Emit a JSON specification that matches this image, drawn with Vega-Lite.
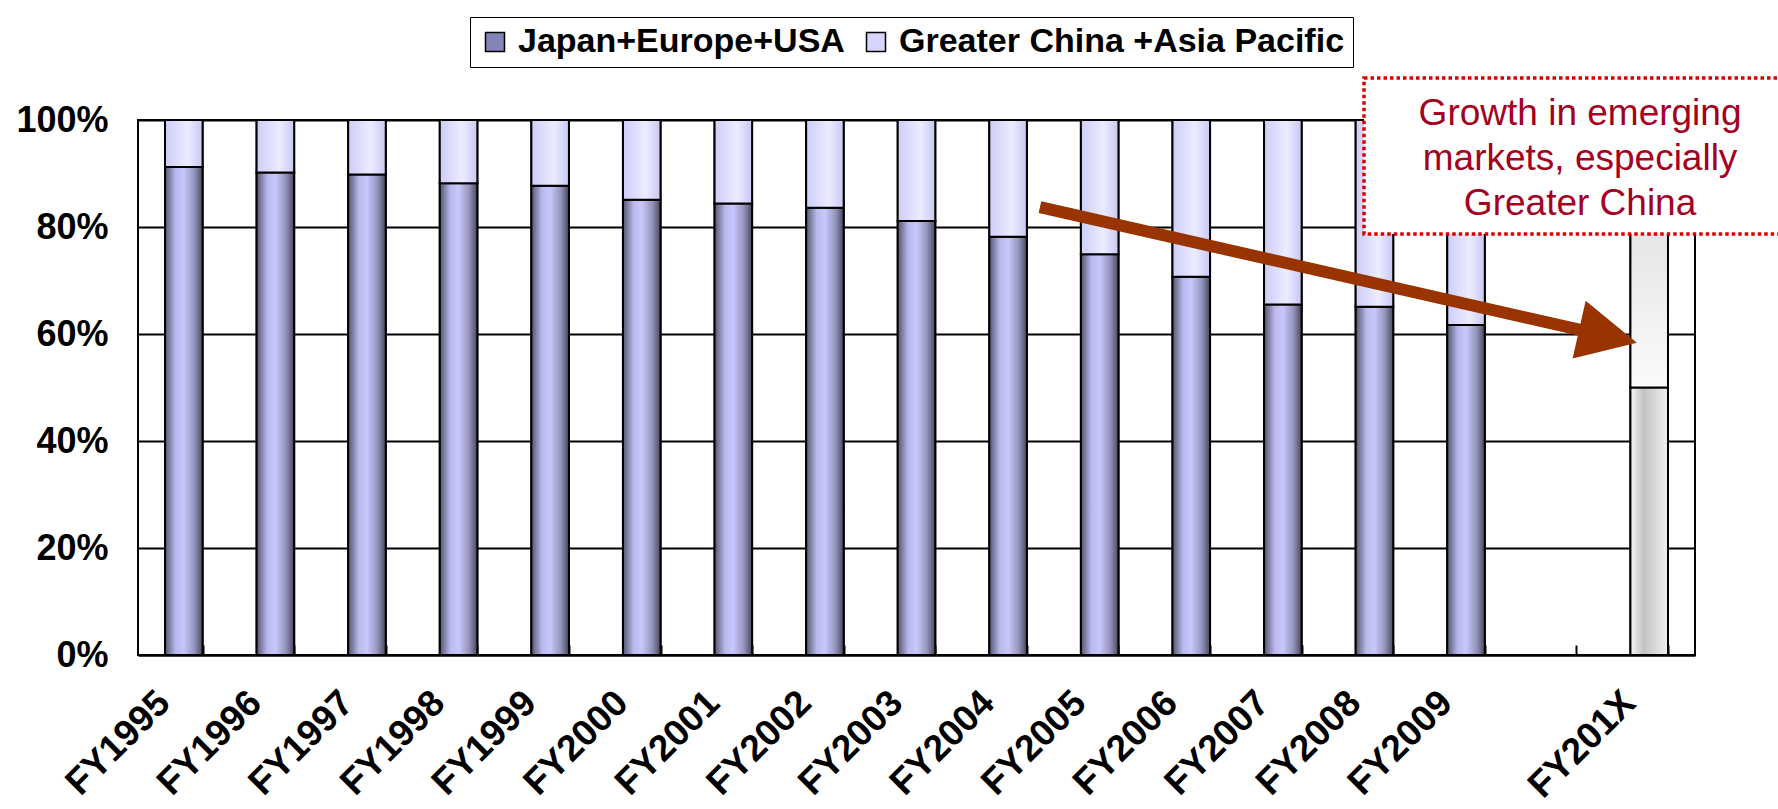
{
  "$schema": "https://vega.github.io/schema/vega-lite/v6.json",
  "width": 1557,
  "height": 535,
  "autosize": {"type": "none"},
  "padding": {"left": 138, "top": 120, "right": 83, "bottom": 154},
  "background": "white",
  "data": {
    "values": [
      {"year": "FY1995", "share": 0.912},
      {"year": "FY1996", "share": 0.902},
      {"year": "FY1997", "share": 0.898},
      {"year": "FY1998", "share": 0.882},
      {"year": "FY1999", "share": 0.877},
      {"year": "FY2000", "share": 0.851},
      {"year": "FY2001", "share": 0.844},
      {"year": "FY2002", "share": 0.836},
      {"year": "FY2003", "share": 0.811},
      {"year": "FY2004", "share": 0.782},
      {"year": "FY2005", "share": 0.749},
      {"year": "FY2006", "share": 0.707},
      {"year": "FY2007", "share": 0.655},
      {"year": "FY2008", "share": 0.651},
      {"year": "FY2009", "share": 0.617},
      {"year": "FY201X", "share": 0.5}
    ]
  },
  "layer": [
    {
      "layer": [
        {
          "mark": {"type": "bar", "stroke": "black", "strokeWidth": 2},
          "encoding": {
            "x": {
              "field": "year", "type": "nominal", "title": null,
              "scale": {"domain": ["FY1995","FY1996","FY1997","FY1998","FY1999","FY2000","FY2001","FY2002","FY2003","FY2004","FY2005","FY2006","FY2007","FY2008","FY2009"," ","FY201X"], "paddingInner": 0.59, "paddingOuter": 0.295},
              "axis": {
                "labelAngle": -45, "labelAlign": "right", "labelBaseline": "middle",
                "labelFont": "Liberation Sans", "labelFontSize": 37, "labelFontWeight": "bold", "labelColor": "black",
                "labelPadding": 52, "labelOffset": -20, "labelLimit": 0,
                "tickBand": "extent", "tickSize": -10, "tickColor": "black", "tickWidth": 2,
                "domain": true, "domainColor": "black", "domainWidth": 2,
                "grid": false
              }
            },
            "y": {
              "field": "share", "type": "quantitative", "title": null,
              "scale": {"domain": [0, 1], "nice": false},
              "axis": {
                "format": ".0%", "values": [0, 0.2, 0.4, 0.6, 0.8, 1],
                "labelFont": "Liberation Sans", "labelFontSize": 36, "labelFontWeight": "bold", "labelColor": "black",
                "labelPadding": 30, "ticks": false, "domain": false,
                "grid": true, "gridColor": "black", "gridWidth": 2
              }
            },
            "color": {
              "datum": "Japan+Europe+USA", "type": "nominal",
              "scale": {"domain": ["Japan+Europe+USA", "Greater China +Asia Pacific"], "range": ["#8484b8", "#d6d6fc"]},
              "legend": {
                "orient": "none", "legendX": 332, "legendY": -103, "direction": "horizontal", "title": null,
                "strokeColor": "black", "fillColor": "white", "padding": 8,
                "symbolType": "square", "symbolSize": 361, "symbolStrokeColor": "black", "symbolStrokeWidth": 1.5,
                "labelFont": "Liberation Sans", "labelFontSize": 34, "labelFontWeight": "bold", "labelColor": "black",
                "labelOffset": 6, "columnPadding": 14, "labelLimit": 0
              }
            }
          }
        },
        {
          "mark": {"type": "bar", "stroke": "black", "strokeWidth": 2},
          "encoding": {
            "x": {"field": "year", "type": "nominal", "title": null},
            "y": {"field": "share", "type": "quantitative", "title": null, "scale": {"domain": [0, 1], "nice": false}},
            "y2": {"datum": 1},
            "color": {
              "datum": "Greater China +Asia Pacific", "type": "nominal",
              "scale": {"domain": ["Japan+Europe+USA", "Greater China +Asia Pacific"], "range": ["#8484b8", "#d6d6fc"]}
            }
          }
        },
        {
          "transform": [{"filter": "datum.year !== 'FY201X'"}],
          "mark": {
            "type": "bar", "stroke": "black", "strokeWidth": 2,
            "fill": {"gradient": "linear", "x1": 0, "x2": 1, "y1": 0, "y2": 0,
              "stops": [
                {"offset": 0, "color": "#54546c"},
                {"offset": 0.28, "color": "#b8b8ec"},
                {"offset": 0.5, "color": "#c8c8fc"},
                {"offset": 0.78, "color": "#9494bc"},
                {"offset": 1, "color": "#48485c"}
              ]}
          },
          "encoding": {
            "x": {"field": "year", "type": "nominal", "title": null},
            "y": {"field": "share", "type": "quantitative", "title": null, "scale": {"domain": [0, 1], "nice": false}}
          }
        },
        {
          "transform": [{"filter": "datum.year !== 'FY201X'"}],
          "mark": {
            "type": "bar", "stroke": "black", "strokeWidth": 2,
            "fill": {"gradient": "linear", "x1": 0, "x2": 1, "y1": 0, "y2": 0,
              "stops": [
                {"offset": 0, "color": "#cdcdf8"},
                {"offset": 0.6, "color": "#ececff"},
                {"offset": 1, "color": "#c8c8f4"}
              ]}
          },
          "encoding": {
            "x": {"field": "year", "type": "nominal", "title": null},
            "y": {"field": "share", "type": "quantitative", "title": null, "scale": {"domain": [0, 1], "nice": false}},
            "y2": {"datum": 1}
          }
        },
        {
          "transform": [{"filter": "datum.year === 'FY201X'"}],
          "mark": {
            "type": "bar", "stroke": "black", "strokeWidth": 2,
            "fill": {"gradient": "linear", "x1": 0, "x2": 1, "y1": 0, "y2": 0,
              "stops": [
                {"offset": 0, "color": "#f6f6f6"},
                {"offset": 0.35, "color": "#c2c2c2"},
                {"offset": 1, "color": "#f2f2f2"}
              ]}
          },
          "encoding": {
            "x": {"field": "year", "type": "nominal", "title": null},
            "y": {"field": "share", "type": "quantitative", "title": null, "scale": {"domain": [0, 1], "nice": false}}
          }
        },
        {
          "transform": [{"filter": "datum.year === 'FY201X'"}],
          "mark": {
            "type": "bar", "stroke": "black", "strokeWidth": 2,
            "fill": {"gradient": "linear", "x1": 0, "x2": 0, "y1": 0, "y2": 1,
              "stops": [
                {"offset": 0, "color": "#d6d6d6"},
                {"offset": 1, "color": "#fbfbfb"}
              ]}
          },
          "encoding": {
            "x": {"field": "year", "type": "nominal", "title": null},
            "y": {"field": "share", "type": "quantitative", "title": null, "scale": {"domain": [0, 1], "nice": false}},
            "y2": {"datum": 1}
          }
        }
      ]
    },
    {
      "transform": [{"filter": "datum.year === 'FY201X'"}],
      "layer": [
        {
          "mark": {"type": "rect", "fill": "white", "stroke": "#dd0000", "strokeWidth": 3.5, "strokeDash": [3.5, 3]},
          "encoding": {
            "x": {"datum": 13.386, "type": "quantitative", "scale": {"domain": [0, 17], "nice": false, "zero": false}, "axis": null},
            "x2": {"datum": 18.5},
            "y": {"datum": 1.0785, "type": "quantitative", "scale": {"domain": [0, 1], "nice": false}, "axis": null},
            "y2": {"datum": 0.787}
          }
        },
        {
          "mark": {"type": "text", "text": ["Growth in emerging", "markets, especially", "Greater China"], "font": "Liberation Sans", "fontSize": 37, "lineHeight": 45, "align": "center", "baseline": "alphabetic", "color": "#a50021"},
          "encoding": {
            "x": {"datum": 15.745, "type": "quantitative", "scale": {"domain": [0, 17], "nice": false, "zero": false}, "axis": null},
            "y": {"datum": 0.9907, "type": "quantitative", "scale": {"domain": [0, 1], "nice": false}, "axis": null}
          }
        },
        {
          "mark": {"type": "rule", "color": "#993300", "strokeWidth": 12, "strokeCap": "butt"},
          "encoding": {
            "x": {"datum": 9.848, "type": "quantitative", "scale": {"domain": [0, 17], "nice": false, "zero": false}, "axis": null},
            "x2": {"datum": 16.05},
            "y": {"datum": 0.837, "type": "quantitative", "scale": {"domain": [0, 1], "nice": false}, "axis": null},
            "y2": {"datum": 0.596}
          }
        },
        {
          "mark": {"type": "point", "shape": "M1,0L-1,-1L-1,1Z", "size": 3500, "angle": 12.74, "filled": true, "color": "#993300", "opacity": 1, "strokeWidth": 0},
          "encoding": {
            "x": {"datum": 16.05, "type": "quantitative", "scale": {"domain": [0, 17], "nice": false, "zero": false}, "axis": null},
            "y": {"datum": 0.596, "type": "quantitative", "scale": {"domain": [0, 1], "nice": false}, "axis": null}
          }
        }
      ]
    }
  ],
  "resolve": {"scale": {"x": "independent", "y": "independent"}},
  "config": {
    "view": {"stroke": "black", "strokeWidth": 2},
    "font": "Liberation Sans"
  }
}
